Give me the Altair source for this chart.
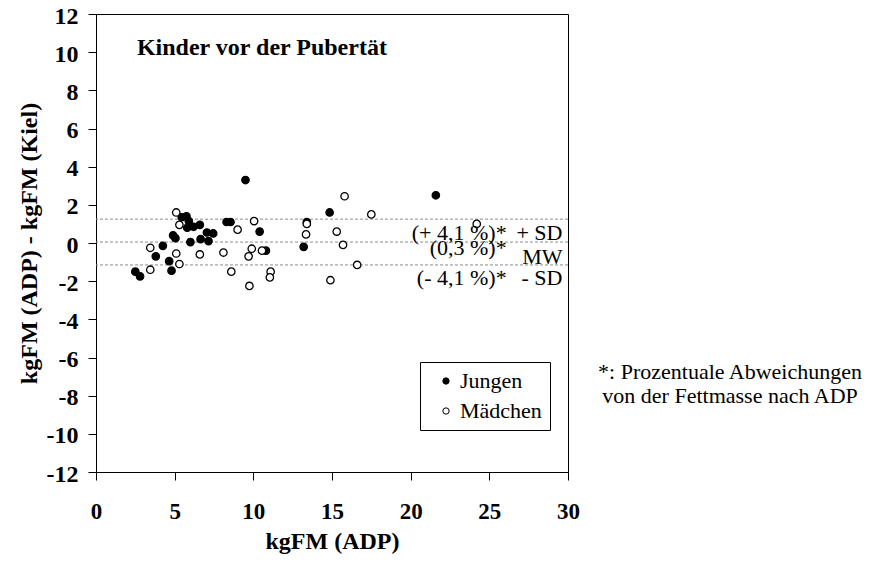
import altair as alt
import pandas as pd

# --- data ---
boys_x = [2.5, 2.8, 3.8, 4.25, 4.65, 4.8, 4.9, 5.05, 5.45, 5.75, 5.9, 5.8, 6.2, 6.6,
          7.05, 7.45, 6.0, 6.65, 7.15, 8.3, 8.55, 9.5, 10.4, 10.8, 13.2, 13.4, 14.85, 21.6]
boys_y = [-1.5, -1.75, -0.7, -0.15, -0.95, -1.45, 0.4, 0.25, 1.35, 1.4, 1.15, 0.8, 0.85, 0.95,
          0.55, 0.5, 0.05, 0.2, 0.1, 1.1, 1.1, 3.3, 0.6, -0.4, -0.2, 1.1, 1.6, 2.5]

girls_x = [3.45, 3.45, 5.1, 5.3, 5.1, 5.3, 6.6, 8.1, 8.6, 9.0, 9.9, 9.7, 9.75, 10.05,
           10.55, 11.1, 11.05, 13.4, 13.35, 14.9, 15.3, 15.7, 15.8, 16.6, 17.5, 24.2]
girls_y = [-0.25, -1.4, 1.6, 0.95, -0.55, -1.1, -0.6, -0.5, -1.5, 0.7, -0.3, -0.7, -2.25, 1.15,
           -0.4, -1.5, -1.8, 1.0, 0.45, -1.95, 0.6, -0.1, 2.45, -1.15, 1.5, 1.0]

groups = ["Jungen", "Mädchen"]
ref_lines = [1.25, 0.05, -1.15]  # +SD, MW, -SD

x_ticks = [0, 5, 10, 15, 20, 25, 30]
y_ticks = [-12, -10, -8, -6, -4, -2, 0, 2, 4, 6, 8, 10, 12]

pct_labels = ["(+ 4,1 %)*", "(0,3 %)*", "(- 4,1 %)*"]
pct_y = [0.54, -0.26, -1.83]
stat_labels = ["+ SD", "MW", "- SD"]
stat_y = [0.54, -0.71, -1.83]

title_text = "Kinder vor der Pubertät"
footnote = ["*: Prozentuale Abweichungen", "von der Fettmasse nach ADP"]
footnote_y = [-6.75, -8.0]

FONT = "Liberation Serif"

pts = pd.DataFrame({
    "x": boys_x + girls_x,
    "y": boys_y + girls_y,
    "Gruppe": [groups[0]] * len(boys_x) + [groups[1]] * len(girls_x),
})
lines_df = pd.DataFrame({"y": ref_lines})
pct_df = pd.DataFrame({"t": pct_labels, "y": pct_y, "x": [26.1] * 3})
stat_df = pd.DataFrame({"t": stat_labels, "y": stat_y, "x": [29.65] * 3})
title_df = pd.DataFrame({"t": [title_text], "x": [2.6], "y": [10.2]})
foot_df = pd.DataFrame({"t": footnote, "x": [40.3] * 2, "y": footnote_y})

xs = alt.Scale(domain=[0, 30], nice=False, zero=False)
ys = alt.Scale(domain=[-12, 12], nice=False, zero=False)

x_axis = alt.Axis(values=x_ticks, grid=False, tickSize=8, labelPadding=20, titlePadding=6,
                  labelFlush=False, labelOverlap=False, labelExpr="'' + datum.value")
y_axis = alt.Axis(values=y_ticks, grid=False, tickSize=8, labelPadding=10, titlePadding=5,
                  labelFlush=False, labelOverlap=False, labelOffset=2,
                  labelExpr="'' + datum.value", labelFontSize=24)


def X():
    return alt.X("x:Q", scale=xs, title="kgFM (ADP)", axis=x_axis)


def Y():
    return alt.Y("y:Q", scale=ys, title="kgFM (ADP) - kgFM (Kiel)", axis=y_axis)


rules = alt.Chart(lines_df).mark_rule(color="#8c8c8c", strokeDash=[3, 2], strokeWidth=1).encode(
    y=Y()
)

points = alt.Chart(pts).mark_point(shape="circle", filled=True, stroke="black",
                                   strokeWidth=1.3, size=55, opacity=1).encode(
    x=X(), y=Y(),
    fill=alt.Fill("Gruppe:N", scale=alt.Scale(domain=groups, range=["black", "white"]),
                  legend=alt.Legend(orient="none", legendX=324, legendY=348, title=None,
                                    strokeColor="black", fillColor="white", padding=8,
                                    symbolOffset=7, symbolType="circle", symbolSize=40,
                                    symbolStrokeColor="black", symbolStrokeWidth=1,
                                    labelFont=FONT, labelFontSize=22, labelColor="black",
                                    labelOffset=3, rowPadding=8, cornerRadius=0)),
)


def text_layer(df, align, size, weight="normal"):
    return alt.Chart(df).mark_text(align=align, baseline="middle", font=FONT,
                                   fontSize=size, fontWeight=weight, color="black").encode(
        x=X(), y=Y(), text="t:N")


pct_text = text_layer(pct_df, "right", 22)
stat_text = text_layer(stat_df, "right", 22)
title_mark = text_layer(title_df, "left", 24, "bold")
foot_text = text_layer(foot_df, "center", 22)

chart = alt.layer(rules, points, pct_text, stat_text, title_mark, foot_text).properties(
    width=472, height=458,
    autosize=alt.AutoSizeParams(type="none"),
    padding={"left": 88, "top": 6, "right": 298, "bottom": 88},
    background="white",
).configure_view(
    stroke="black", strokeWidth=1
).configure_axis(
    domainColor="black", tickColor="black", domainWidth=1, tickWidth=1,
    labelFont=FONT, labelFontSize=23, labelFontWeight="bold", labelColor="black",
    titleFont=FONT, titleFontSize=24, titleFontWeight="bold", titleColor="black",
)

chart.save("out.html", embed_options={"renderer": "svg", "actions": False})
